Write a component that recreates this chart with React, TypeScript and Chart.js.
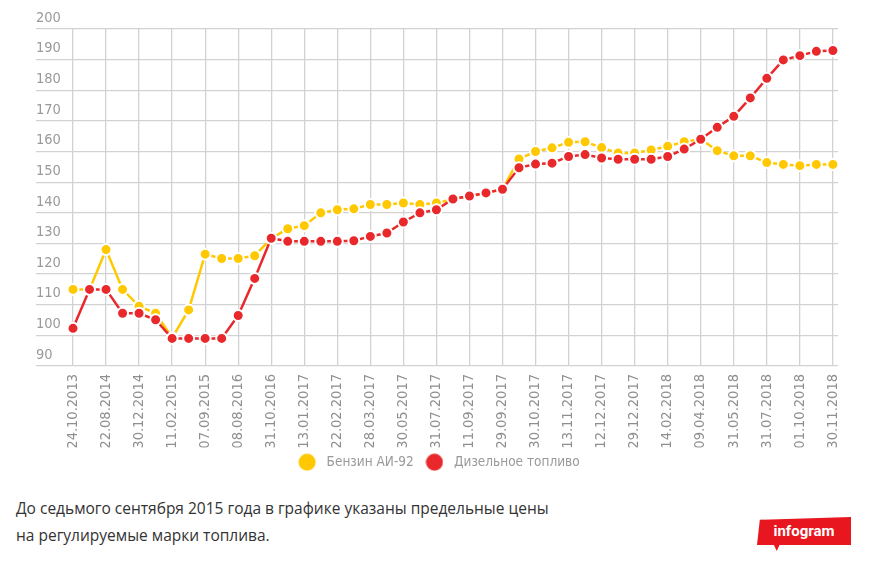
import React, { useEffect, useRef } from "react";
import { Chart, registerables } from "chart.js";

Chart.register(...registerables);

const dateLabels = [
  "24.10.2013", "22.08.2014", "30.12.2014", "11.02.2015", "07.09.2015", "08.08.2016",
  "31.10.2016", "13.01.2017", "22.02.2017", "28.03.2017", "30.05.2017", "31.07.2017",
  "11.09.2017", "29.09.2017", "30.10.2017", "13.11.2017", "12.12.2017", "29.12.2017",
  "14.02.2018", "09.04.2018", "31.05.2018", "31.07.2018", "01.10.2018", "30.11.2018",
];

const petrolValues = [
  115, 115, 128, 115, 109.5, 107.2, 99.2, 108.3, 126.5, 125.1, 125.1, 126, 131.6, 134.8,
  135.8, 140, 141, 141.3, 142.7, 142.7, 143.2, 142.7, 143.2, 144.4, 145.5, 146.5, 147.7,
  157.6, 160, 161.2, 163, 163.2, 161.3, 159.5, 159.5, 160.5, 161.7, 163.2, 164,
  160.3, 158.6, 158.6, 156.4, 155.8, 155.4, 155.8, 155.8,
];

const dieselValues = [
  102.3, 115, 115, 107.2, 107.2, 105.1, 99, 99, 99, 99, 106.5, 118.6, 131.7, 130.7,
  130.7, 130.7, 130.7, 130.9, 132.3, 133.4, 137, 140, 141, 144.5, 145.5, 146.5, 147.7,
  154.7, 155.9, 156.2, 158.4, 159, 157.9, 157.5, 157.5, 157.5, 158.4, 160.8, 164,
  167.9, 171.5, 177.5, 183.9, 189.9, 191.3, 192.7, 193,
];

const seriesNames = ["Бензин АИ-92", "Дизельное топливо"];
const yMin = 90;
const yMax = 200;

const AXIS_FONT = "'Liberation Sans Narrow', 'DejaVu Sans Condensed', 'Arial Narrow', sans-serif";
const YELLOW = "#FFC800";
const RED = "#E8282B";

function makeDot(color: string): HTMLCanvasElement {
  const c = document.createElement("canvas");
  c.width = 18;
  c.height = 18;
  const ctx = c.getContext("2d");
  if (ctx) {
    ctx.fillStyle = color;
    ctx.beginPath();
    ctx.arc(9, 9, 8.5, 0, Math.PI * 2);
    ctx.fill();
  }
  return c;
}

export default function App() {
  const canvasRef = useRef<HTMLCanvasElement | null>(null);

  useEffect(() => {
    if (!canvasRef.current) return;
    const toPoints = (arr: number[]) => arr.map((v, i) => ({ x: i, y: v }));
    const colors = [RED, YELLOW];
    const dots = colors.map(makeDot);
    const chart = new Chart(canvasRef.current, {
      type: "line",
      data: {
        datasets: [
          {
            label: seriesNames[1],
            data: toPoints(dieselValues),
            borderColor: RED,
            backgroundColor: RED,
            borderWidth: 2.5,
            pointRadius: 5.5,
            pointBorderWidth: 2,
            pointBackgroundColor: RED,
            pointBorderColor: "#ffffff",
            tension: 0,
          },
          {
            label: seriesNames[0],
            data: toPoints(petrolValues),
            borderColor: YELLOW,
            backgroundColor: YELLOW,
            borderWidth: 2.5,
            pointRadius: 5.5,
            pointBorderWidth: 2,
            pointBackgroundColor: YELLOW,
            pointBorderColor: "#ffffff",
            tension: 0,
          },
        ],
      },
      options: {
        animation: false,
        responsive: true,
        maintainAspectRatio: false,
        layout: { padding: { left: 36, right: 34, top: 29, bottom: 0 } },
        plugins: {
          tooltip: { enabled: false },
          legend: {
            position: "bottom",
            labels: {
              usePointStyle: true,
              pointStyleWidth: 25.5,
              boxHeight: 12,
              color: "#9a9a9a",
              font: { family: AXIS_FONT, size: 13.5 },
              padding: 8,
              generateLabels: (c: any) => {
                const items = Chart.defaults.plugins.legend.labels.generateLabels(c);
                return items.map((it: any) => ({ ...it, pointStyle: dots[it.datasetIndex] }));
              },
              sort: (a: any, b: any) => b.datasetIndex - a.datasetIndex,
            },
          },
        },
        scales: {
          x: {
            type: "linear",
            min: -2.24,
            max: 46.31,
            afterBuildTicks: (scale: any) => {
              scale.ticks = dateLabels.map((_, i) => ({ value: i * 2 }));
            },
            afterFit: (scale: any) => {
              scale.height = 81.5;
            },
            grid: { color: "#d2d2d2", lineWidth: 1.3, drawTicks: false },
            border: { display: false },
            ticks: {
              autoSkip: false,
              maxRotation: 90,
              minRotation: 90,
              padding: 8,
              color: "#8f8f8f",
              font: { family: AXIS_FONT, size: 14.5 },
              callback: (value: any) => dateLabels[Math.round(Number(value) / 2)] ?? "",
            },
          },
          y: {
            min: yMin,
            max: yMax,
            grid: { color: "#d2d2d2", lineWidth: 1.3, drawTicks: false },
            border: { display: false },
            ticks: {
              stepSize: 10,
              mirror: true,
              padding: 0,
              labelOffset: -11,
              color: "#9a9a9a",
              font: { family: AXIS_FONT, size: 14.5 },
            },
          },
        },
      },
    });
    return () => chart.destroy();
  }, []);

  return (
    <div style={{ position: "absolute", left: 0, top: 0, width: 872, height: 562, background: "#fff", overflow: "hidden" }}>
      <div style={{ position: "absolute", left: 0, top: 0, width: 872, height: 479 }}>
        <canvas ref={canvasRef} />
      </div>
      <div
        style={{
          position: "absolute",
          left: 16,
          top: 495,
          fontFamily: "'Open Sans', sans-serif",
          fontSize: 15.5,
          lineHeight: "27px",
          color: "#333333",
          whiteSpace: "nowrap",
        }}
      >
        До седьмого сентября 2015 года в графике указаны предельные цены
        <br />
        на регулируемые марки топлива.
      </div>
      <div
        style={{
          position: "absolute",
          left: 757,
          top: 517,
          width: 94,
          height: 34,
          background: "#E8171F",
          clipPath: "polygon(3% 8%, 100% 0%, 100% 82%, 24% 82%, 21% 100%, 18% 82%, 0% 82%)",
        }}
      >
        <div
          style={{
            position: "absolute",
            left: 0,
            right: 0,
            top: 5,
            textAlign: "center",
            color: "#fff",
            fontFamily: "'Liberation Sans Narrow', 'Roboto', sans-serif",
            fontSize: 15,
            fontWeight: 700,
          }}
        >
          infogram
        </div>
      </div>
    </div>
  );
}
